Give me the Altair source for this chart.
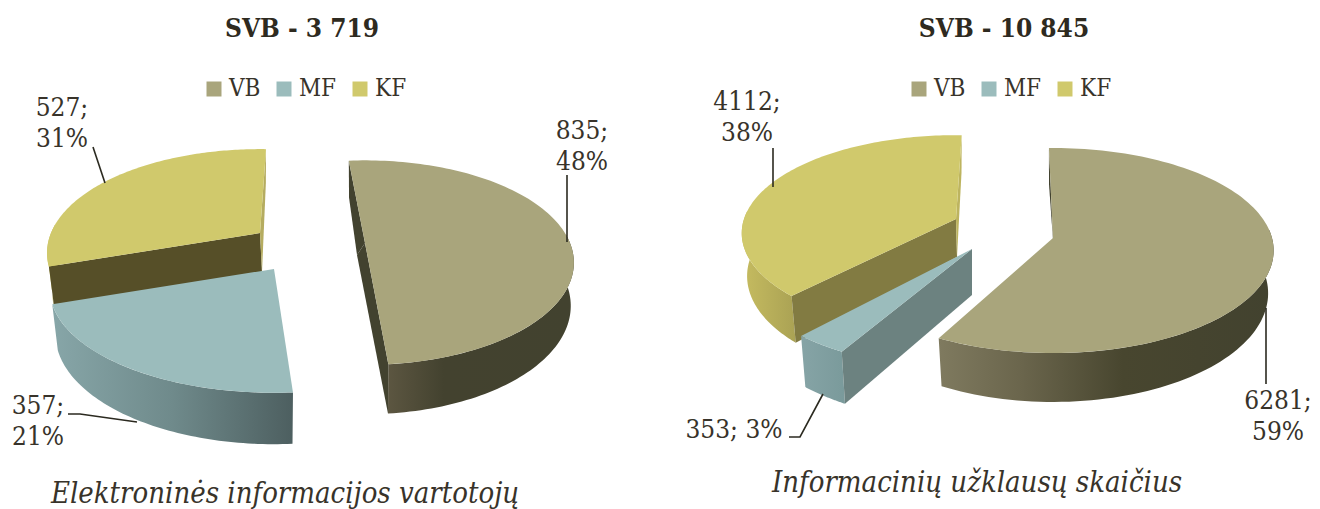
import math
import altair as alt

categories = ["VB", "MF", "KF"]
colors = ["#a9a57c", "#9bbcbc", "#d0c96c"]
values_left = [835, 357, 527]
values_right = [6281, 353, 4112]
pct_left = [48, 21, 31]
pct_right = [59, 3, 38]
FONT = "DejaVu Serif Condensed"
INK = "#38332a"
PANEL_W = 652
PANEL_H = 440
OY = 46  # page y of the panel's plot origin


def G(*stops):
    return alt.LinearGradient(
        gradient="linear", x1=0, x2=1, y1=0, y2=0,
        stops=[alt.GradientStop(offset=o, color=c) for o, c in stops],
    )


# Perspective layout of each exploded slice (value decides the span of the arc)
left_layout = {
    "VB": dict(ax=365, ay=243, R=205, Ry=98.5, p=0.192, start=-5.4, warp=1.03, d=42, ab=(-8, 12), q=0.985,
               side=G((0, "#5c5641"), (0.3, "#43422f"), (1, "#42422f")),
               faces={"start": "#42422f", "end": "#42422f"}),
    "MF": dict(ax=274, ay=269, R=220, Ry=100, p=0.192, start=176, warp=1.0, d=44, ab=(0, 44), q=0.975,
               side=G((0, "#87a6a8"), (0.5, "#6f8a8b"), (1, "#4d5f60")),
               faces={}),
    "KF": dict(ax=260, ay=233, R=209, Ry=100, p=0.192, start=251.6, warp=1.0, d=39, ab=(2, 39), q=0.975,
               side=G((0, "#cfc768"), (1, "#c4bb5e")),
               faces={"start": "#564f28", "end": "#b5ac60"}),
}
right_layout = {
    "VB": dict(ax=1053, ay=238, R=219, Ry=101, p=0.122, start=-1.2, warp=0.993, d=42, ab=(0, 2), q=0.975,
               side=G((0, "#7f7a5f"), (0.25, "#6a654c"), (0.55, "#48462f"), (1, "#42422f")),
               faces={"start": "#42422f"}),
    "MF": dict(ax=972, ay=249, R=233, Ry=106, p=0.122, start=210, warp=1.0, d=46, ab=(0, 46), q=0.975,
               side=G((0, "#86a4a6"), (1, "#7a9a9b")),
               faces={"start": "#6c8280"}),
    "KF": dict(ax=956, ay=219, R=212, Ry=96, p=0.145, start=224, warp=1.0, d=42, ab=(1, 38), q=0.975,
               side=G((0, "#c6bc60"), (1, "#aaa254")),
               faces={"start": "#827b42", "end": "#bdb45f"}),
}


def top_pt(s, th):
    t = math.radians(th)
    k = 1 / (1 + s["p"] * math.cos(t))
    return [s["ax"] + s["R"] * math.sin(t) * k, s["ay"] - s["Ry"] * math.cos(t) * k]


def bottom_pt(s, th):
    x, y = top_pt(s, th)
    return [s["ax"] + (x - s["ax"]) * s["q"], y + s["d"] + (y - s["ay"]) * 0.06]


def arc(fn, s, a, b, n=70):
    return [fn(s, a + (b - a) * i / n) for i in range(n + 1)]


def panel(values, pcts, layout, origin_x, title, title_dx, legend_x, label_pos, caption, leaders, order, colpad):
    total = sum(values)
    shift = origin_x - 8

    def local(coords):
        return [[x - shift, y] for x, y in coords]

    def feature(coords, category):
        c = local(coords)
        return {"type": "Feature", "properties": {"category": category},
                "geometry": {"type": "Polygon", "coordinates": [c + [c[0]]]}}

    def line(coords):
        return {"type": "Feature", "properties": {},
                "geometry": {"type": "LineString", "coordinates": local(coords)}}

    proj = dict(type="identity", scale=1, translate=[-8, -OY])
    layers = []
    tops = []
    spans = {}
    for cat, v in zip(categories, values):
        s = layout[cat]
        spans[cat] = (s["start"], s["start"] + v / total * 360 * s["warp"])
    for cat in order:
        s = layout[cat]
        a, b = spans[cat]
        vis_a, vis_b = max(a, 85), min(b, 275)
        outer = arc(top_pt, s, vis_a, vis_b) + arc(bottom_pt, s, vis_b, vis_a)
        A = [s["ax"], s["ay"]]
        A_b = [s["ax"] + s["ab"][0], s["ay"] + s["ab"][1]]
        layers.append(alt.Chart(alt.Data(values=[feature(outer, cat)]))
                      .mark_geoshape(fill=s["side"], strokeWidth=0).project(**proj))
        for key, col in s["faces"].items():
            th = a if key == "start" else b
            q = [A, top_pt(s, th), bottom_pt(s, th), A_b]
            layers.append(alt.Chart(alt.Data(values=[feature(q, cat)]))
                          .mark_geoshape(fill=col, strokeWidth=0).project(**proj))
    for cat in order:
        s = layout[cat]
        a, b = spans[cat]
        tops.append(feature([[s["ax"], s["ay"]]] + arc(top_pt, s, a, b, 120), cat))
    top_layer = (
        alt.Chart(alt.Data(values=tops))
        .mark_geoshape(strokeWidth=0)
        .encode(color=alt.Color(
            "properties.category:N",
            scale=alt.Scale(domain=categories, range=colors),
            legend=alt.Legend(
                title=None, orient="none", legendX=legend_x, legendY=82 - OY - 5, direction="horizontal",
                columns=3, symbolType="square", symbolSize=225, symbolStrokeWidth=0, labelFont=FONT,
                labelFontSize=24, labelColor=INK, columnPadding=colpad, labelOffset=3, padding=0),
        ))
        .project(**proj)
    )
    layers.append(top_layer)
    layers.append(alt.Chart(alt.Data(values=[line(c) for c in leaders]))
                  .mark_geoshape(filled=False, stroke="#2b2a20", strokeWidth=1.6).project(**proj))
    rows = []
    for cat, v, p, pos in zip(categories, values, pcts, label_pos):
        text = f"{v}; {p}%" if pos[2] else f"{v};\n{p}%"
        rows.append({"t": text, "x": pos[0] - origin_x, "y": pos[1] - OY})
    layers.append(alt.Chart(alt.Data(values=rows))
                  .mark_text(font=FONT, fontSize=26, color=INK, align="center", baseline="alphabetic",
                             lineBreak="\n", lineHeight=31)
                  .encode(x=alt.X("x:Q", scale=None), y=alt.Y("y:Q", scale=None), text="t:N"))
    layers.append(alt.Chart(alt.Data(values=[{"t": caption[0], "x": caption[1] - origin_x, "y": caption[2] - OY}]))
                  .mark_text(font=FONT, fontSize=29, fontStyle="italic", color=INK, align="center", baseline="alphabetic")
                  .encode(x=alt.X("x:Q", scale=None), y=alt.Y("y:Q", scale=None), text="t:N"))
    return alt.layer(*layers).properties(
        width=PANEL_W, height=PANEL_H,
        title=alt.TitleParams(title, anchor="middle", dx=title_dx, font=FONT, fontSize=26, fontWeight="bold",
                              color="#2e2a20", offset=4),
    )


left = panel(
    values_left, pct_left, left_layout, 8, "SVB - 3 719", 302 - 8 - PANEL_W / 2, 194,
    [(582, 139, False), (38, 414, False), (62, 116, False)],
    ("Elektroninės informacijos vartotojų", 285, 503),
    [[[567, 242], [567, 175]], [[68, 414], [80, 414], [137, 422]], [[105, 183], [93, 147]]],
    ["KF", "MF", "VB"], 11,
)
right = panel(
    values_right, pct_right, right_layout, 660, "SVB - 10 845", 1004 - 660 - PANEL_W / 2, 247,
    [(1278, 409, False), (734, 438, True), (747, 110, False)],
    ("Informacinių užklausų skaičius", 977, 492),
    [[[1266, 308], [1266, 384]], [[823, 394], [800, 437], [789, 437]], [[773, 187], [773, 148]]],
    ["KF", "MF", "VB"], 11,
)

chart = (
    alt.hconcat(left, right, spacing=0)
    .resolve_scale(color="independent")
    .properties(padding={"left": 0, "right": 0, "top": 8, "bottom": 0}, background="white")
    .configure_view(strokeWidth=0)
    .configure_concat(spacing=0)
)
chart.save("out.html", embed_options={"renderer": "svg", "actions": False})
